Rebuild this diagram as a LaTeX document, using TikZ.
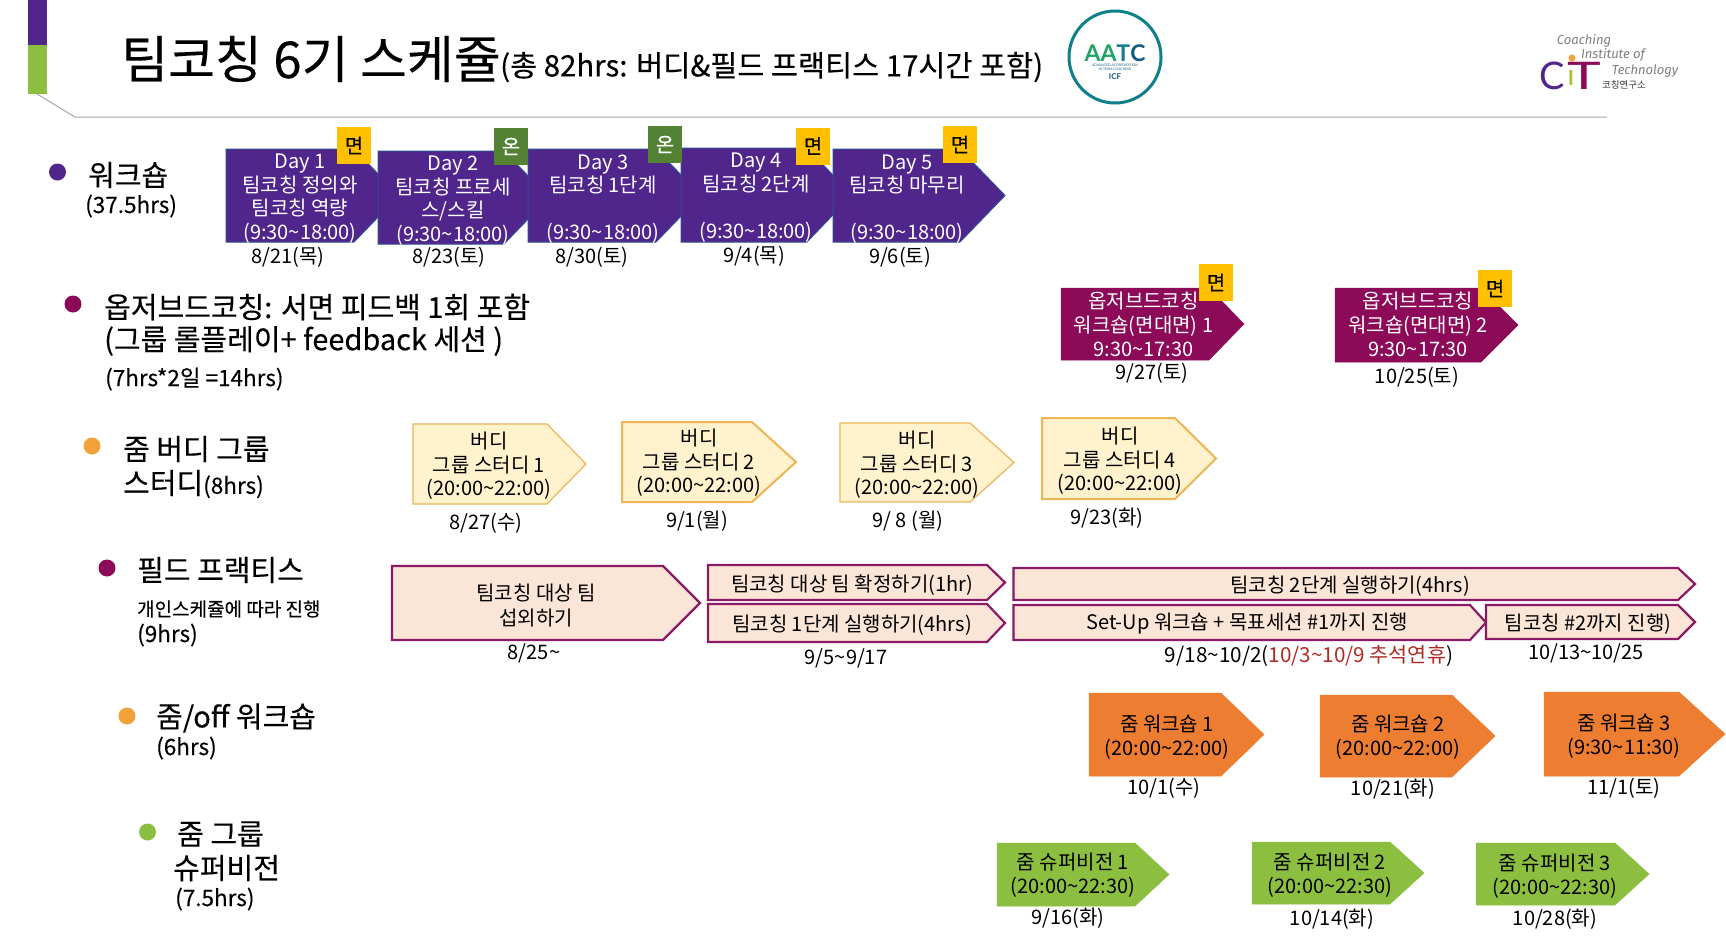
\documentclass[tikz,border=0pt]{standalone}
\usepackage{fontspec}
\setmainfont{Noto Sans CJK KR}
\newfontfamily\medfont[FakeBold=0.25]{Noto Sans CJK KR}
\newfontfamily\logofont{Lato}
\newfontfamily\handfont{Fira Sans}
\definecolor{wspurple}{HTML}{51268C}
\definecolor{wsedge}{HTML}{2F4F8F}
\definecolor{obmaroon}{HTML}{8C0A58}
\definecolor{buddyfill}{HTML}{FFF2CC}
\definecolor{buddyedge}{HTML}{EDB557}
\definecolor{fieldfill}{HTML}{FBE5D6}
\definecolor{fieldedge}{HTML}{8A1A66}
\definecolor{zoomorange}{HTML}{ED7D31}
\definecolor{supgreen}{HTML}{8CBF3F}
\definecolor{tagyellow}{HTML}{FFC000}
\definecolor{taggreen}{HTML}{548235}
\definecolor{bulletorange}{HTML}{F2A23A}
\definecolor{rulegray}{HTML}{A6A6A6}
\definecolor{aatcteal}{HTML}{0F7F8C}
\definecolor{aatcgreen}{HTML}{1FA463}
\definecolor{aatcblue}{HTML}{125A86}
\definecolor{holidayred}{HTML}{B02A25}
\newcommand{\fsz}[1]{\fontsize{#1}{#1}\selectfont}
\newcommand{\szt}[2]{\fontsize{#1}{#2}\selectfont}
\newcommand{\tld}{\textasciitilde}
% name, style, x0, y0, shoulder x, tip x, y1
\newcommand{\plate}[7]{%
  \draw[#2] (#3,#4) -- (#5,#4) -- (#6,{(#4+#7)/2}) -- (#5,#7) -- (#3,#7) -- cycle;
  \coordinate (#1) at (#3,#4);}
\tikzset{
  x=1pt,y=-1pt,
  wsbox/.style={fill=wspurple,draw=wsedge,line width=1pt},
  obbox/.style={fill=obmaroon,draw=obmaroon,line width=.5pt},
  buddythin/.style={fill=buddyfill,draw=buddyedge,line width=1.2pt},
  buddythick/.style={fill=buddyfill,draw=buddyedge,line width=2pt},
  fieldbox/.style={fill=fieldfill,draw=fieldedge,line width=2.2pt},
  orangebox/.style={fill=zoomorange,draw=zoomorange,line width=.5pt},
  greenbox/.style={fill=supgreen,draw=supgreen,line width=.5pt},
  txt/.style={inner sep=0pt,align=center,text=black,yshift=-2pt},
  wtxt/.style={txt,text=white,font=\szt{20}{23.5}},
  btxt/.style={txt,font=\szt{20}{23.5}},
  datetxt/.style={txt,font=\fsz{20},yshift=.5pt},
  head/.style={inner sep=0pt,anchor=west,align=left,yshift=-2pt,font=\medfont\fsz{29}},
  sub/.style={inner sep=0pt,anchor=west,align=left,yshift=-2pt,font=\medfont\fsz{22.5}},
  bulletdot/.style={circle,inner sep=0pt,minimum size=17pt},
  tagbox/.style={inner sep=0pt,minimum width=34pt,minimum height=37pt,font=\medfont\fsz{20}},
  tagface/.style={tagbox,fill=tagyellow,text=black},
  tagon/.style={tagbox,fill=taggreen,text=white},
}
\begin{document}
\begin{tikzpicture}
\useasboundingbox[fill=white] (0,0) rectangle (1726,946);
% header decoration
\fill[wspurple] (28,0) rectangle (47,45);
\fill[supgreen] (28,45) rectangle (47,94);
\draw[rulegray,line width=1pt] (37,94) -- (75,117) -- (1607,117);
\node[inner sep=0pt,anchor=west,font=\medfont\fsz{51}] (title) at (121,59) {팀코칭 6기 스케쥴};
\node[inner sep=0pt,anchor=west,font=\medfont\fsz{29.4}] (subtitle) at (500,67) {(총 82hrs: 버디\&필드 프랙티스 17시간 포함)};
% AATC logo
\node[circle,draw=aatcteal,line width=3pt,minimum size=92pt,inner sep=0pt] (aatc) at (1115,57) {};
\node[inner sep=0pt,font=\logofont\bfseries\fontsize{23}{23}\selectfont] (aatcname) at (1115,53) {\textcolor{aatcgreen}{AA}\textcolor{aatcteal}{T}\textcolor{aatcblue}{C}};
\node[inner sep=0pt,align=center,text=aatcblue,font=\logofont\fontsize{3.4}{4.4}\selectfont] (aatcsub) at (1115,67) {ADVANCED ACCREDITATION\\IN TEAM COACHING};
\node[inner sep=0pt,text=aatcblue,font=\logofont\bfseries\fontsize{8}{8}\selectfont] (aatcicf) at (1115,77) {ICF};
% CIT logo
\node[inner sep=0pt,text=gray,font=\handfont\itshape\fontsize{13}{13}\selectfont] (citA) at (1584,41) {Coaching};
\node[inner sep=0pt,text=gray,font=\handfont\itshape\fontsize{13}{13}\selectfont] (citB) at (1613,55) {Institute of};
\node[inner sep=0pt,text=gray,font=\handfont\itshape\fontsize{13}{13}\selectfont] (citC) at (1645,71) {Technology};
\node[inner sep=0pt,text=wspurple,font=\logofont\fontsize{38}{38}\selectfont] (citD) at (1552,76) {C};
\node[inner sep=0pt,text=supgreen!70!tagyellow,font=\logofont\fontsize{30}{30}\selectfont] (citE) at (1571,78) {ı};
\node[circle,fill=bulletorange,inner sep=0pt,minimum size=7pt] (citF) at (1572,58) {};
\node[inner sep=0pt,text=obmaroon,font=\logofont\fontsize{38}{38}\selectfont] (citG) at (1584,76) {\scalebox{1.5}[1]{T}};
\node[inner sep=0pt,font=\fontsize{9.5}{9.5}\selectfont,text=black!80] (citH) at (1624,84.5) {코칭연구소};
% row 1
\node[bulletdot,fill=wspurple] (b1) at (57.5,172) {};
\node[head] (h1) at (88,173) {워크숍};
\node[sub] (s1) at (85,204) {(37.5hrs)};
\plate{d1}{wsbox}{226}{149}{354}{399}{242}
\plate{d2}{wsbox}{378}{151}{504}{549}{244}
\plate{d3}{wsbox}{528}{149}{656}{701}{242}
\plate{d4}{wsbox}{681}{148}{807}{852}{242}
\plate{d5}{wsbox}{833}{149}{960}{1005}{242}
\node[wtxt] (d1t) at (300,196.5) {Day 1\\팀코칭 정의와\\팀코칭 역량\\(9:30\tld 18:00)};
\node[wtxt] (d2t) at (453,198.5) {Day 2\\팀코칭 프로세\\스/스킬\\(9:30\tld 18:00)};
\node[wtxt] (d3t) at (603,197) {Day 3\\팀코칭 1단계\\\mbox{}\\(9:30\tld 18:00)};
\node[wtxt] (d4t) at (756,195.5) {Day 4\\팀코칭 2단계\\\mbox{}\\(9:30\tld 18:00)};
\node[wtxt] (d5t) at (907,197) {Day 5\\팀코칭 마무리\\\mbox{}\\(9:30\tld 18:00)};
\node[tagface] (t1) at (354,145.5) {면};
\node[tagon] (t2) at (511,146.5) {온};
\node[tagon] (t3) at (665,144.5) {온};
\node[tagface] (t4) at (813,146) {면};
\node[tagface] (t5) at (960,144.5) {면};
\node[datetxt] (dd1) at (288,256) {8/21(목)};
\node[datetxt] (dd2) at (449,256) {8/23(토)};
\node[datetxt] (dd3) at (592,256) {8/30(토)};
\node[datetxt] (dd4) at (754,255) {9/4(목)};
\node[datetxt] (dd5) at (900,256) {9/6(토)};
% row 2
\node[bulletdot,fill=obmaroon] (b2) at (73,304) {};
\node[head] (h2a) at (104,305) {옵저브드코칭: 서면 피드백 1회 포함};
\node[head] (h2b) at (104,339) {(그룹 롤플레이+ feedback 세션 )};
\node[sub] (s2) at (105,377) {(7hrs*2일 =14hrs)};
\plate{o1}{obbox}{1061}{288}{1209}{1244}{360}
\plate{o2}{obbox}{1335}{288}{1481}{1518}{362}
\node[wtxt,font=\szt{20}{24},yshift=2pt] (o1t) at (1143.5,324.5) {옵저브드코칭\\워크숍(면대면) 1\\9:30\tld 17:30};
\node[wtxt,font=\szt{20}{24},yshift=2pt] (o2t) at (1418,324.5) {옵저브드코칭\\워크숍(면대면) 2\\9:30\tld 17:30};
\node[tagface] (ot1) at (1216,282.5) {면};
\node[tagface] (ot2) at (1495,288.5) {면};
\node[datetxt] (od1) at (1152,372) {9/27(토)};
\node[datetxt] (od2) at (1417,376) {10/25(토)};
% row 3
\node[bulletdot,fill=bulletorange] (b3) at (92,446) {};
\node[head] (h3a) at (123,447) {줌 버디 그룹};
\node[head] (h3b) at (123,482) {스터디{\fsz{22.5}(8hrs)}};
\plate{u1}{buddythin}{413}{424}{547}{586}{504}
\plate{u2}{buddythick}{622}{422}{752}{796}{502}
\plate{u3}{buddythin}{840}{423}{970}{1014}{502}
\plate{u4}{buddythick}{1042}{418}{1175}{1216}{499}
\node[btxt] (u1t) at (489,464) {버디\\그룹 스터디 1\\(20:00\tld 22:00)};
\node[btxt] (u2t) at (699,461) {버디\\그룹 스터디 2\\(20:00\tld 22:00)};
\node[btxt] (u3t) at (917,463) {버디\\그룹 스터디 3\\(20:00\tld 22:00)};
\node[btxt] (u4t) at (1120,459) {버디\\그룹 스터디 4\\(20:00\tld 22:00)};
\node[datetxt] (ud1) at (486,522) {8/27(수)};
\node[datetxt] (ud2) at (697,520) {9/1(월)};
\node[datetxt] (ud3) at (908,520) {9/ 8 (월)};
\node[datetxt] (ud4) at (1107,517) {9/23(화)};
% row 4
\node[bulletdot,fill=obmaroon] (b4) at (107,568) {};
\node[head] (h4) at (137,568) {필드 프랙티스};
\node[head,font=\medfont\fsz{19}] (h4b) at (137,607) {개인스케쥴에 따라 진행};
\node[sub] (s4) at (137,633) {(9hrs)};
\plate{f1}{fieldbox}{392}{566}{663}{700}{640}
\plate{f2}{fieldbox}{708}{565}{987}{1005}{600}
\plate{f3}{fieldbox}{708}{604}{987}{1005}{642}
\plate{f4}{fieldbox}{1013.5}{568}{1678}{1695}{600}
\plate{f5}{fieldbox}{1013.5}{605}{1470}{1486}{640}
\plate{f6}{fieldbox}{1486}{605}{1678}{1695}{639}
\node[btxt,font=\szt{20}{25}] (f1t) at (536,604) {팀코칭 대상 팀\\섭외하기};
\node[btxt] (f2t) at (852,583) {팀코칭 대상 팀 확정하기(1hr)};
\node[btxt] (f3t) at (852,623) {팀코칭 1단계 실행하기(4hrs)};
\node[btxt] (f4t) at (1350,584) {팀코칭 2단계 실행하기(4hrs)};
\node[btxt] (f5t) at (1247,622) {Set-Up 워크숍 + 목표세션 \#1까지 진행};
\node[btxt] (f6t) at (1588,622) {팀코칭 \#2까지 진행)};
\node[datetxt] (fd1) at (534,652) {8/25\tld};
\node[datetxt] (fd2) at (846,657) {9/5\tld 9/17};
\node[datetxt,font=\fsz{20.7}] (fd3) at (1309,654) {9/18\tld 10/2({\color{holidayred}10/3\tld 10/9 추석연휴})};
\node[datetxt] (fd4) at (1586,652) {10/13\tld 10/25};
% row 5
\node[bulletdot,fill=bulletorange] (b5) at (127,716) {};
\node[head] (h5) at (156,716) {줌/off 워크숍};
\node[sub] (s5) at (156,746) {(6hrs)};
\plate{z1}{orangebox}{1089}{693}{1221}{1264}{776}
\plate{z2}{orangebox}{1320}{695}{1452}{1495}{777}
\plate{z3}{orangebox}{1544}{692}{1679}{1725}{776}
\node[btxt] (z1t) at (1167,735) {줌 워크숍 1\\(20:00\tld 22:00)};
\node[btxt] (z2t) at (1398,735) {줌 워크숍 2\\(20:00\tld 22:00)};
\node[btxt] (z3t) at (1624,734) {줌 워크숍 3\\(9:30\tld 11:30)};
\node[datetxt] (zd1) at (1164,787) {10/1(수)};
\node[datetxt] (zd2) at (1393,788) {10/21(화)};
\node[datetxt] (zd3) at (1624,787) {11/1(토)};
% row 6
\node[bulletdot,fill=supgreen] (b6) at (147.5,832) {};
\node[head] (h6a) at (177,832) {줌 그룹};
\node[head] (h6b) at (173,866) {슈퍼비전};
\node[sub] (s6) at (175,897) {(7.5hrs)};
\plate{g1}{greenbox}{997}{843}{1135}{1169}{906}
\plate{g2}{greenbox}{1252}{842}{1390}{1424}{904}
\plate{g3}{greenbox}{1476}{843}{1615}{1649}{905}
\node[btxt] (g1t) at (1073,873) {줌 슈퍼비전 1\\(20:00\tld 22:30)};
\node[btxt] (g2t) at (1330,873) {줌 슈퍼비전 2\\(20:00\tld 22:30)};
\node[btxt] (g3t) at (1555,874) {줌 슈퍼비전 3\\(20:00\tld 22:30)};
\node[datetxt] (gd1) at (1068,917) {9/16(화)};
\node[datetxt] (gd2) at (1332,918) {10/14(화)};
\node[datetxt] (gd3) at (1555,918) {10/28(화)};
\end{tikzpicture}
\end{document}
